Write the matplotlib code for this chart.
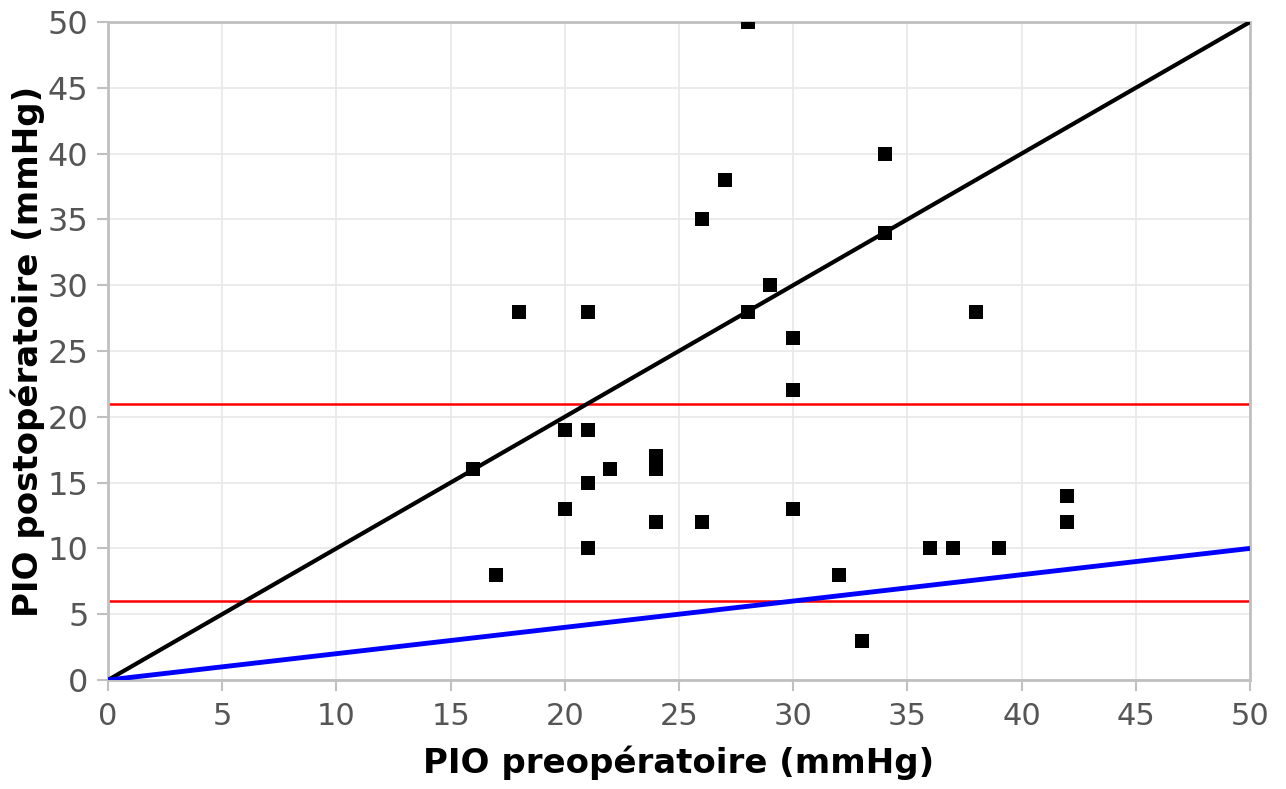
import numpy as np
import matplotlib
matplotlib.use('Agg')
from matplotlib import pyplot as plt

# PIO data
pio_pre = [28, 34, 27, 26, 34, 29, 28, 18, 21, 38, 30, 30, 20, 21, 16, 24, 24, 22,
           21, 20, 30, 24, 26, 42, 42, 21, 17, 32, 36, 37, 39, 33]
pio_post = [50, 40, 38, 35, 34, 30, 28, 28, 28, 28, 26, 22, 19, 19, 16, 17, 16, 16,
            15, 13, 13, 12, 12, 14, 12, 10, 8, 8, 10, 10, 10, 3]

ref_x = [0, 50]
identity_y = [0, 50]       # y = x
fifth_y = [0, 10]          # y = x / 5
limits_y = [21, 6]         # horizontal reference lines

ticks = list(range(0, 51, 5))

fig = plt.figure(figsize=(12.86, 7.89), dpi=100)
ax = fig.add_axes([108 / 1286, 1 - 680 / 789, (1250 - 108) / 1286, (680 - 22) / 789])

ax.set_xlim(0, 50)
ax.set_ylim(0, 50)
ax.set_xticks(ticks)
ax.set_yticks(ticks)
ax.grid(True, color='#e8e8e8', linewidth=1.2)
ax.set_axisbelow(True)

for yv in limits_y:
    ax.axhline(yv, color='#ff0000', linewidth=1.8, zorder=2)

ax.plot(ref_x, identity_y, color='black', linewidth=3, zorder=3, solid_capstyle='butt')
ax.plot(ref_x, fifth_y, color='#0000ff', linewidth=3.5, zorder=3, solid_capstyle='butt')

ax.scatter(pio_pre, pio_post, marker='s', s=100, color='black', zorder=4, linewidths=0)

for sp in ax.spines.values():
    sp.set_color('#c0c0c0')
    sp.set_linewidth(2)

ax.tick_params(axis='both', colors='#c0c0c0', length=8, width=1.5, labelcolor='#555555')
ax.tick_params(axis='x', labelsize=22, pad=8)
ax.tick_params(axis='y', labelsize=23, pad=6)

ax.set_xlabel('PIO preopératoire (mmHg)', fontsize=24.5, fontweight='bold', labelpad=10)
ax.set_ylabel('PIO postopératoire (mmHg)', fontsize=24.5, fontweight='bold', labelpad=2)

fig.savefig('out.png', dpi=100)
